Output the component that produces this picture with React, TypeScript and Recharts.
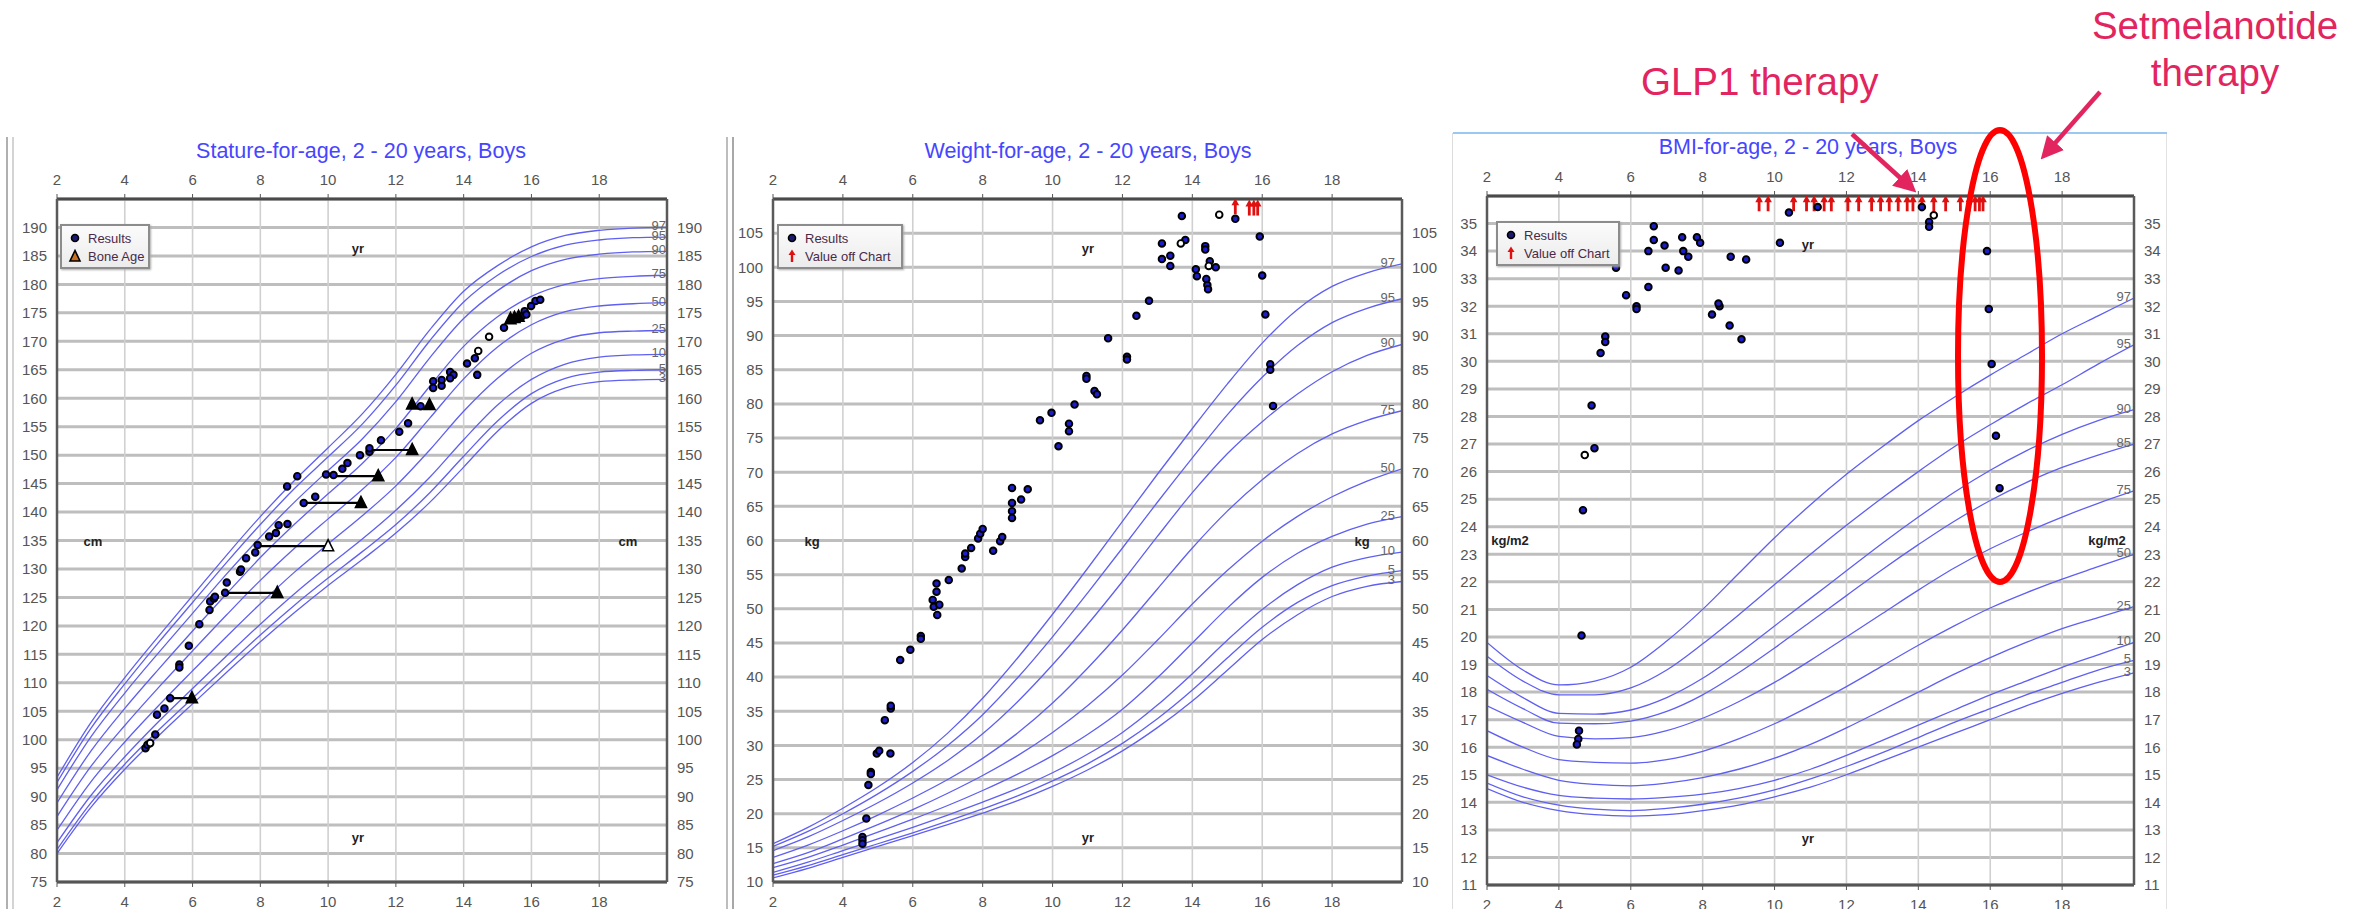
import React from 'react';
import { ComposedChart, Line, Scatter, XAxis, YAxis, CartesianGrid } from 'recharts';

// ages at which the reference percentile curves are read
const AGES = [2, 3, 4, 5, 6, 7, 8, 9, 10, 11, 12, 13, 14, 15, 16, 17, 18, 19, 20];
const AGE_TICKS = [2, 4, 6, 8, 10, 12, 14, 16, 18];
const MINOR_AGE_TICKS = [2.5, 3, 3.5, 4.5, 5, 5.5, 6.5, 7, 7.5, 8.5, 9, 9.5, 10.5, 11, 11.5, 12.5, 13, 13.5, 14.5, 15, 15.5, 16.5, 17, 17.5, 18.5, 19, 19.5];

const STATURE_TICKS = [75, 80, 85, 90, 95, 100, 105, 110, 115, 120, 125, 130, 135, 140, 145, 150, 155, 160, 165, 170, 175, 180, 185, 190];
const WEIGHT_TICKS = [10, 15, 20, 25, 30, 35, 40, 45, 50, 55, 60, 65, 70, 75, 80, 85, 90, 95, 100, 105];
const BMI_TICKS = [11, 12, 13, 14, 15, 16, 17, 18, 19, 20, 21, 22, 23, 24, 25, 26, 27, 28, 29, 30, 31, 32, 33, 34, 35];

// stature-for-age percentiles (cm)
const STATURE_P3 = [80.0, 88.1, 94.8, 100.7, 106.3, 111.8, 117.2, 122.3, 127.1, 131.6, 136.3, 141.7, 147.9, 154.2, 159.1, 161.8, 162.9, 163.2, 163.3];
const STATURE_P5 = [80.7, 88.9, 95.7, 101.7, 107.3, 112.9, 118.4, 123.6, 128.4, 133.0, 137.8, 143.4, 149.8, 156.0, 160.8, 163.5, 164.6, 164.9, 165.0];
const STATURE_P10 = [81.9, 90.2, 97.0, 103.2, 109.0, 114.7, 120.3, 125.6, 130.5, 135.2, 140.3, 146.1, 152.7, 158.8, 163.3, 166.0, 167.2, 167.6, 167.7];
const STATURE_P25 = [84.1, 92.6, 99.6, 106.0, 112.1, 118.1, 123.9, 129.4, 134.4, 139.3, 144.6, 150.9, 157.7, 163.5, 167.9, 170.4, 171.5, 171.8, 171.9];
const STATURE_P50 = [86.5, 95.3, 102.5, 109.2, 115.6, 121.9, 128.0, 133.6, 138.8, 143.9, 149.6, 156.5, 163.4, 169.0, 172.9, 175.2, 176.2, 176.6, 176.8];
const STATURE_P75 = [88.9, 98.0, 105.5, 112.4, 119.1, 125.6, 132.0, 137.8, 143.2, 148.5, 154.7, 162.1, 169.1, 174.3, 177.9, 180.0, 181.0, 181.4, 181.6];
const STATURE_P90 = [91.2, 100.5, 108.2, 115.3, 122.2, 129.1, 135.6, 141.7, 147.3, 152.8, 159.4, 167.1, 174.0, 178.9, 182.4, 184.4, 185.3, 185.7, 185.8];
const STATURE_P95 = [92.5, 102.0, 109.8, 117.1, 124.1, 131.1, 137.8, 144.1, 149.7, 155.4, 162.3, 170.1, 176.9, 181.6, 184.9, 186.9, 187.8, 188.2, 188.3];
const STATURE_P97 = [93.4, 103.0, 110.9, 118.2, 125.3, 132.4, 139.2, 145.5, 151.3, 157.2, 164.2, 172.0, 178.8, 183.3, 186.6, 188.6, 189.5, 189.9, 190.0];

// weight-for-age percentiles (kg)
const WEIGHT_P3 = [10.6, 12.0, 13.6, 15.2, 16.8, 18.4, 20.1, 21.9, 24.0, 26.4, 29.2, 32.6, 36.5, 41.0, 45.5, 49.1, 51.8, 53.3, 54.0];
const WEIGHT_P5 = [11.0, 12.4, 14.0, 15.6, 17.2, 18.9, 20.7, 22.6, 24.8, 27.3, 30.3, 33.9, 38.1, 42.8, 47.3, 50.9, 53.4, 54.8, 55.6];
const WEIGHT_P10 = [11.4, 12.9, 14.6, 16.3, 18.0, 19.8, 21.7, 23.7, 26.0, 28.7, 31.9, 35.9, 40.5, 45.4, 49.9, 53.5, 56.1, 57.5, 58.3];
const WEIGHT_P25 = [12.1, 13.6, 15.4, 17.3, 19.2, 21.2, 23.4, 25.8, 28.5, 31.6, 35.3, 39.9, 45.0, 50.1, 54.6, 58.1, 60.6, 62.4, 63.5];
const WEIGHT_P50 = [12.7, 14.3, 16.3, 18.4, 20.6, 23.0, 25.6, 28.5, 31.9, 35.8, 40.3, 45.4, 50.7, 55.6, 59.9, 63.5, 66.4, 68.7, 70.5];
const WEIGHT_P75 = [13.6, 15.4, 17.5, 19.8, 22.3, 25.0, 28.1, 31.8, 36.2, 41.3, 46.9, 52.9, 58.9, 64.3, 68.9, 72.7, 75.6, 77.6, 79.0];
const WEIGHT_P90 = [14.6, 16.6, 19.0, 21.6, 24.5, 27.8, 31.7, 36.4, 41.8, 47.7, 54.0, 60.6, 67.0, 72.7, 77.4, 81.4, 84.7, 87.1, 88.7];
const WEIGHT_P95 = [15.2, 17.4, 20.0, 22.9, 26.2, 30.0, 34.5, 39.9, 45.9, 52.3, 58.9, 65.6, 72.1, 78.4, 83.9, 88.5, 91.9, 94.0, 95.4];
const WEIGHT_P97 = [15.6, 18.0, 20.8, 23.9, 27.5, 31.8, 36.9, 42.8, 49.2, 55.9, 62.8, 69.7, 76.4, 82.9, 88.9, 93.8, 97.2, 99.2, 100.5];

// BMI-for-age percentiles (kg/m2)
const BMI_P3 = [14.5, 14.0, 13.7, 13.55, 13.5, 13.55, 13.7, 13.9, 14.2, 14.55, 15.0, 15.5, 16.0, 16.5, 17.0, 17.5, 17.95, 18.35, 18.7];
const BMI_P5 = [14.7, 14.2, 13.9, 13.75, 13.7, 13.78, 13.93, 14.15, 14.45, 14.85, 15.3, 15.8, 16.35, 16.9, 17.4, 17.9, 18.35, 18.8, 19.15];
const BMI_P10 = [15.0, 14.55, 14.25, 14.15, 14.12, 14.18, 14.3, 14.5, 14.8, 15.2, 15.7, 16.25, 16.8, 17.35, 17.9, 18.4, 18.9, 19.35, 19.8];
const BMI_P25 = [15.7, 15.2, 14.8, 14.65, 14.6, 14.7, 14.9, 15.2, 15.6, 16.1, 16.7, 17.35, 18.0, 18.65, 19.25, 19.8, 20.3, 20.7, 21.1];
const BMI_P50 = [16.6, 16.0, 15.55, 15.45, 15.42, 15.55, 15.85, 16.3, 16.85, 17.5, 18.2, 18.95, 19.7, 20.4, 21.05, 21.6, 22.1, 22.55, 23.0];
const BMI_P75 = [17.5, 16.9, 16.39, 16.3, 16.35, 16.6, 17.05, 17.65, 18.35, 19.15, 20.0, 20.85, 21.7, 22.5, 23.2, 23.8, 24.35, 24.85, 25.3];
const BMI_P85 = [18.1, 17.4, 16.87, 16.85, 16.95, 17.3, 17.9, 18.7, 19.6, 20.55, 21.5, 22.45, 23.35, 24.2, 24.95, 25.6, 26.15, 26.6, 27.0];
const BMI_P90 = [18.6, 17.8, 17.23, 17.2, 17.35, 17.8, 18.5, 19.4, 20.4, 21.4, 22.4, 23.4, 24.35, 25.25, 26.05, 26.75, 27.35, 27.85, 28.25];
const BMI_P95 = [19.3, 18.4, 17.9, 17.9, 18.15, 18.8, 19.75, 20.8, 21.9, 23.0, 24.05, 25.05, 26.0, 26.9, 27.7, 28.45, 29.15, 29.9, 30.6];
const BMI_P97 = [19.8, 18.8, 18.26, 18.4, 18.9, 19.85, 21.0, 22.3, 23.6, 24.8, 25.9, 26.9, 27.85, 28.7, 29.5, 30.25, 31.0, 31.65, 32.3];

// patient measurements [age, value]
const STATURE_RESULTS = [
  [4.61, 98.5], [4.67, 99.1], [4.9, 100.9], [4.95, 104.4], [5.17, 105.5], [5.34, 107.3], [5.61, 113.2], [5.61, 112.7],
  [5.89, 116.5], [6.2, 120.3], [6.5, 122.8], [6.52, 124.3], [6.63, 124.8], [6.66, 125.1], [6.96, 125.8], [7.01, 127.6],
  [7.4, 129.5], [7.43, 129.9], [7.58, 131.9], [7.85, 132.9], [7.92, 134.2], [8.26, 135.7], [8.46, 136.3], [8.54, 137.7],
  [8.8, 137.9], [8.79, 144.5], [9.09, 146.3], [9.28, 141.6], [9.62, 142.7], [9.94, 146.6], [10.16, 146.5], [10.42, 147.6],
  [10.57, 148.6], [10.94, 150.0], [11.22, 150.6], [11.22, 151.2], [11.56, 152.6], [12.1, 154.1], [12.36, 155.6], [12.73, 158.6],
  [13.1, 163.0], [13.1, 161.8], [13.35, 162.2], [13.35, 163.2], [13.6, 164.6], [13.7, 164.1], [13.6, 163.5], [14.1, 166.1],
  [14.33, 167.0], [14.4, 164.1], [15.19, 172.4], [15.72, 174.4], [15.8, 175.3], [15.85, 174.7], [15.99, 176.2], [16.12, 177.1], [16.26, 177.3],
];
const STATURE_OPEN = [[4.75, 99.4], [14.43, 168.3], [14.75, 170.8]];
// [chronological age, bone age, stature]
const BONE_AGE_LINKS = [[5.34, 5.98, 107.3], [6.96, 8.5, 125.8], [7.95, 10.0, 134.0], [9.28, 10.97, 141.6], [10.1, 11.48, 146.3], [11.31, 12.48, 150.9]];
const BONE_AGE_OPEN = [[10.0, 134.0]];
const BONE_AGE_ALONE = [[12.48, 158.9], [12.99, 158.8], [15.38, 173.9], [15.5, 174.1], [15.62, 174.3]];

const WEIGHT_RESULTS = [
  [4.56, 16.6], [4.56, 16.1], [4.56, 15.6], [4.67, 19.3], [4.73, 24.2], [4.8, 26.1], [4.8, 25.8], [4.97, 28.8], [5.04, 29.2],
  [5.36, 28.8], [5.2, 33.7], [5.37, 35.4], [5.37, 35.8], [5.64, 42.5], [5.93, 44.0], [6.23, 46.0], [6.23, 45.6], [6.57, 51.3],
  [6.6, 50.3], [6.68, 53.7], [6.68, 52.5], [6.7, 49.1], [6.76, 50.6], [7.03, 54.2], [7.4, 55.9], [7.5, 57.6], [7.5, 58.1],
  [7.67, 58.9], [7.87, 60.3], [7.93, 61.0], [8.0, 61.7], [8.3, 58.5], [8.5, 59.9], [8.56, 60.5], [8.84, 65.5], [8.84, 64.3],
  [8.84, 63.3], [8.84, 67.7], [9.1, 66.0], [9.29, 67.5], [9.64, 77.6], [9.97, 78.7], [10.17, 73.8], [10.47, 77.1], [10.47, 76.0],
  [10.63, 79.9], [10.97, 84.1], [10.97, 83.7], [11.2, 81.9], [11.27, 81.4], [11.59, 89.6], [12.13, 86.9], [12.13, 86.5],
  [12.4, 92.9], [12.76, 95.1], [13.13, 101.2], [13.13, 103.5], [13.37, 101.7], [13.37, 100.2], [13.7, 107.5], [13.8, 104.0],
  [14.1, 99.7], [14.13, 98.7], [14.37, 103.1], [14.37, 102.6], [14.4, 98.3], [14.43, 97.4], [14.45, 96.8], [14.5, 100.9],
  [14.67, 100.0], [15.23, 107.1], [15.93, 104.5], [16.0, 98.8], [16.09, 93.1], [16.23, 85.8], [16.23, 85.0], [16.31, 79.7],
];
const WEIGHT_OPEN = [[13.67, 103.5], [14.47, 100.2], [14.77, 107.7]];
const WEIGHT_OFF_CHART = [[15.23, 108.8], [15.63, 108.6], [15.76, 108.6], [15.87, 108.6]];

const BMI_RESULTS = [
  [10.4, 35.4], [11.2, 35.6], [10.15, 34.3], [14.1, 35.6], [14.3, 35.06], [14.3, 34.88], [6.64, 34.9], [6.64, 34.4],
  [6.49, 34.0], [6.94, 34.2], [7.43, 34.5], [7.46, 34.0], [7.6, 33.8], [7.84, 34.5], [7.93, 34.3], [6.97, 33.4],
  [7.33, 33.3], [5.59, 33.4], [5.87, 32.4], [6.16, 32.0], [6.16, 31.9], [6.49, 32.7], [8.78, 33.8], [9.21, 33.7],
  [8.47, 32.0], [8.44, 32.1], [8.26, 31.7], [8.75, 31.3], [9.08, 30.8], [5.29, 30.9], [5.29, 30.7], [5.16, 30.3],
  [4.91, 28.4], [4.99, 26.85], [4.67, 24.6], [4.63, 20.05], [4.56, 16.6], [4.54, 16.3], [4.5, 16.1],
  [15.91, 34.0], [15.96, 31.9], [16.04, 29.9], [16.16, 27.3], [16.26, 25.4],
];
const BMI_OPEN = [[4.72, 26.6], [14.43, 35.3]];
const BMI_OFF_CHART = [
  [9.57, 35.7], [9.82, 35.7], [10.53, 35.7], [10.89, 35.7], [11.1, 35.7], [11.38, 35.7], [11.58, 35.7], [12.04, 35.7],
  [12.34, 35.7], [12.7, 35.7], [12.95, 35.7], [13.19, 35.7], [13.44, 35.7], [13.69, 35.7], [13.85, 35.7], [14.1, 35.7],
  [14.43, 35.7], [14.76, 35.7], [15.17, 35.7], [15.42, 35.7], [15.58, 35.7], [15.7, 35.7], [15.8, 35.7],
];

type Curve = { label: string; values: number[] };

const STATURE_CURVES: Curve[] = [
  { label: '3', values: STATURE_P3 }, { label: '5', values: STATURE_P5 }, { label: '10', values: STATURE_P10 },
  { label: '25', values: STATURE_P25 }, { label: '50', values: STATURE_P50 }, { label: '75', values: STATURE_P75 },
  { label: '90', values: STATURE_P90 }, { label: '95', values: STATURE_P95 }, { label: '97', values: STATURE_P97 },
];
const WEIGHT_CURVES: Curve[] = [
  { label: '3', values: WEIGHT_P3 }, { label: '5', values: WEIGHT_P5 }, { label: '10', values: WEIGHT_P10 },
  { label: '25', values: WEIGHT_P25 }, { label: '50', values: WEIGHT_P50 }, { label: '75', values: WEIGHT_P75 },
  { label: '90', values: WEIGHT_P90 }, { label: '95', values: WEIGHT_P95 }, { label: '97', values: WEIGHT_P97 },
];
const BMI_CURVES: Curve[] = [
  { label: '3', values: BMI_P3 }, { label: '5', values: BMI_P5 }, { label: '10', values: BMI_P10 },
  { label: '25', values: BMI_P25 }, { label: '50', values: BMI_P50 }, { label: '75', values: BMI_P75 },
  { label: '85', values: BMI_P85 }, { label: '90', values: BMI_P90 }, { label: '95', values: BMI_P95 },
  { label: '97', values: BMI_P97 },
];

const FONT = '"Liberation Sans", Arial, sans-serif';
const CURVE_BLUE = '#5f5ff2';
const PINK = '#e2245f';

const pts = (arr: number[][]) => arr.map(([age, v]) => ({ age, v }));

const dotShape = (fill: string) => (p: any) => (
  <circle cx={p.cx} cy={p.cy} r={3.3} fill={fill} stroke="#000" strokeWidth={1.9} />
);
const triangleShape = (fill: string) => (p: any) => (
  <polygon
    points={`${p.cx},${p.cy - 6.5} ${p.cx - 5.5},${p.cy + 4.5} ${p.cx + 5.5},${p.cy + 4.5}`}
    fill={fill}
    stroke="#000"
    strokeWidth={1.6}
  />
);
const arrowShape = (p: any) => (
  <g>
    <rect x={p.cx - 1.4} y={p.cy - 3} width={2.8} height={10} fill="#e01010" />
    <polygon points={`${p.cx - 3.8},${p.cy - 2} ${p.cx},${p.cy - 9} ${p.cx + 3.8},${p.cy - 2}`} fill="#e01010" />
  </g>
);

interface GrowthChartProps {
  left: number;
  width: number;
  leftW: number;
  rightW: number;
  topH: number;
  bottomH: number;
  domain: [number, number];
  yTicks: number[];
  curves: Curve[];
  labelDx: number;
  extra: React.ReactNode[];
}

function GrowthChart({ left, width, leftW, rightW, topH, bottomH, domain, yTicks, curves, labelDx, extra }: GrowthChartProps) {
  const tickStyle = { fill: '#555', fontSize: 15, fontFamily: FONT };
  const pctLabels = curves.map((c) => ({ age: 20, v: c.values[c.values.length - 1], t: c.label }));
  return (
    <div style={{ position: 'absolute', left, top: 130 }}>
      <ComposedChart width={width} height={779} margin={{ top: 0, right: 0, bottom: 0, left: 0 }}>
        <CartesianGrid vertical={false} stroke="#bebebe" strokeWidth={3} />
        <CartesianGrid horizontal={false} stroke="#d0d0d0" strokeWidth={1.6} />
        <XAxis xAxisId="tm" orientation="top" type="number" domain={[2, 20]} ticks={MINOR_AGE_TICKS} interval={0}
          height={0} tick={false} tickSize={3} axisLine={false} tickLine={{ stroke: '#777' }} allowDataOverflow />
        <XAxis xAxisId="top" orientation="top" type="number" dataKey="age" domain={[2, 20]} ticks={AGE_TICKS} interval={0}
          height={topH} tickSize={5} tickMargin={9} tick={tickStyle} axisLine={{ stroke: '#4a4a4a', strokeWidth: 3 }}
          tickLine={{ stroke: '#555' }} allowDataOverflow />
        <XAxis xAxisId="bm" orientation="bottom" type="number" domain={[2, 20]} ticks={MINOR_AGE_TICKS} interval={0}
          height={0} tick={false} tickSize={3} axisLine={false} tickLine={{ stroke: '#777' }} allowDataOverflow />
        <XAxis orientation="bottom" type="number" dataKey="age" domain={[2, 20]} ticks={AGE_TICKS} interval={0}
          height={bottomH} tickSize={5} tickMargin={9} tick={tickStyle} axisLine={{ stroke: '#555', strokeWidth: 3 }}
          tickLine={{ stroke: '#555' }} allowDataOverflow />
        <YAxis type="number" dataKey="v" domain={domain} ticks={yTicks} interval={0} width={leftW} tickSize={0}
          tickMargin={10} tick={tickStyle} axisLine={{ stroke: '#5a5a5a', strokeWidth: 2.5 }} allowDataOverflow />
        <YAxis yAxisId="r" orientation="right" type="number" dataKey="v" domain={domain} ticks={yTicks} interval={0}
          width={rightW} tickSize={0} tickMargin={10} tick={{ ...tickStyle, textAnchor: 'start' }}
          axisLine={{ stroke: '#5a5a5a', strokeWidth: 2.5 }} allowDataOverflow />
        {curves.map((c) => (
          <Line key={'p' + c.label} data={AGES.map((age, i) => ({ age, v: c.values[i] }))} dataKey="v" type="monotone"
            stroke={CURVE_BLUE} strokeWidth={1.3} dot={false} activeDot={false} isAnimationActive={false} />
        ))}
        <Scatter data={pctLabels} isAnimationActive={false}
          shape={(p: any) => (
            <text x={p.cx + labelDx} y={p.cy + 3} textAnchor="end" fontSize={13} fill="#666" fontFamily={FONT}>
              {p.payload.t}
            </text>
          )} />
        {extra}
      </ComposedChart>
    </div>
  );
}

function LegendBox({ left, top, width, items }: { left: number; top: number; width: number; items: { icon: React.ReactNode; text: string }[] }) {
  return (
    <div style={{
      position: 'absolute', left, top, width, height: 45, boxSizing: 'border-box', border: '2px solid #8c8c8c',
      background: 'linear-gradient(#fbfbfb, #ececec)', boxShadow: '1px 1px 2px #aaa', padding: '3px 0 0 6px',
    }}>
      {items.map((it) => (
        <div key={it.text} style={{ display: 'flex', alignItems: 'center', height: 18, fontFamily: FONT, fontSize: 13, color: '#4a2a48' }}>
          <svg width={16} height={14} style={{ marginRight: 4 }}>{it.icon}</svg>
          {it.text}
        </div>
      ))}
    </div>
  );
}

const legendDot = <circle cx={7} cy={7} r={3.5} fill="#1a1a70" stroke="#000" strokeWidth={1.6} />;
const legendTriangle = <polygon points="7,1.5 2,12 12,12" fill="#c87020" stroke="#000" strokeWidth={1.6} />;
const legendArrow = (
  <g>
    <rect x={5.8} y={5} width={2.4} height={8} fill="#e01010" />
    <polygon points="3.5,6 7,0.5 10.5,6" fill="#e01010" />
  </g>
);

function Txt({ x, y, children, style }: { x: number; y: number; children: React.ReactNode; style?: React.CSSProperties }) {
  return (
    <div style={{ position: 'absolute', left: x, top: y, transform: 'translate(-50%, -50%)', whiteSpace: 'nowrap', ...style }}>
      {children}
    </div>
  );
}

const unitStyle: React.CSSProperties = { fontFamily: FONT, fontSize: 13, fontWeight: 'bold', color: '#222' };
const titleStyle: React.CSSProperties = { fontFamily: FONT, fontSize: 21.5, color: '#4646ff' };

function boneLinks() {
  return BONE_AGE_LINKS.map(([a, b, h], i) => (
    <Line key={'bl' + i} data={[{ age: a, v: h }, { age: b, v: h }]} dataKey="v" type="linear" stroke="#000"
      strokeWidth={2.2} dot={false} activeDot={false} isAnimationActive={false} />
  ));
}

export default function App() {
  const statureExtra = [
    ...boneLinks(),
    <Scatter key="r" data={pts(STATURE_RESULTS)} shape={dotShape('#1c1cc8')} isAnimationActive={false} />,
    <Scatter key="o" data={pts(STATURE_OPEN)} shape={dotShape('#ffffff')} isAnimationActive={false} />,
    <Scatter key="t" data={pts(BONE_AGE_LINKS.map(([, b, h]) => [b, h]).filter((p) => p[0] !== BONE_AGE_OPEN[0][0]))}
      shape={triangleShape('#000')} isAnimationActive={false} />,
    <Scatter key="ta" data={pts(BONE_AGE_ALONE)} shape={triangleShape('#000')} isAnimationActive={false} />,
    <Scatter key="to" data={pts(BONE_AGE_OPEN)} shape={triangleShape('#fff')} isAnimationActive={false} />,
  ];
  const weightExtra = [
    <Scatter key="r" data={pts(WEIGHT_RESULTS)} shape={dotShape('#1c1cc8')} isAnimationActive={false} />,
    <Scatter key="o" data={pts(WEIGHT_OPEN)} shape={dotShape('#ffffff')} isAnimationActive={false} />,
    <Scatter key="a" data={pts(WEIGHT_OFF_CHART)} shape={arrowShape} isAnimationActive={false} />,
  ];
  const bmiExtra = [
    <Scatter key="a" data={pts(BMI_OFF_CHART)} shape={arrowShape} isAnimationActive={false} />,
    <Scatter key="r" data={pts(BMI_RESULTS)} shape={dotShape('#1c1cc8')} isAnimationActive={false} />,
    <Scatter key="o" data={pts(BMI_OPEN)} shape={dotShape('#ffffff')} isAnimationActive={false} />,
  ];

  return (
    <div style={{ position: 'absolute', left: 0, top: 0, width: 2367, height: 909, background: '#fff', overflow: 'hidden' }}>
      {/* panel frames */}
      <div style={{ position: 'absolute', left: 6, top: 137, width: 2, height: 772, background: '#b0b0b0' }} />
      <div style={{ position: 'absolute', left: 12, top: 137, width: 2, height: 772, background: '#d4d4d4' }} />
      <div style={{ position: 'absolute', left: 726, top: 137, width: 2, height: 772, background: '#bdbdbd' }} />
      <div style={{ position: 'absolute', left: 732, top: 137, width: 2, height: 772, background: '#a8a8a8' }} />
      <div style={{ position: 'absolute', left: 1452, top: 133, width: 1, height: 776, background: '#dcdcdc' }} />
      <div style={{ position: 'absolute', left: 2166, top: 133, width: 1, height: 776, background: '#e2e2e2' }} />
      <div style={{ position: 'absolute', left: 1453, top: 132, width: 714, height: 2, background: '#9cc8ef' }} />

      <GrowthChart left={0} width={727} leftW={57} rightW={60} topH={69} bottomH={27} domain={[75, 195]}
        yTicks={STATURE_TICKS} curves={STATURE_CURVES} labelDx={-1} extra={statureExtra} />
      <GrowthChart left={733} width={709} leftW={40} rightW={40} topH={69} bottomH={27} domain={[10, 110]}
        yTicks={WEIGHT_TICKS} curves={WEIGHT_CURVES} labelDx={-7} extra={weightExtra} />
      <GrowthChart left={1453} width={714} leftW={34} rightW={33} topH={66} bottomH={24} domain={[11, 36]}
        yTicks={BMI_TICKS} curves={BMI_CURVES} labelDx={-3} extra={bmiExtra} />

      <Txt x={361} y={151} style={titleStyle}>Stature-for-age, 2 - 20 years, Boys</Txt>
      <Txt x={1088} y={151} style={titleStyle}>Weight-for-age, 2 - 20 years, Boys</Txt>
      <Txt x={1808} y={147} style={titleStyle}>BMI-for-age, 2 - 20 years, Boys</Txt>

      <Txt x={358} y={248} style={unitStyle}>yr</Txt>
      <Txt x={358} y={837} style={unitStyle}>yr</Txt>
      <Txt x={93} y={541} style={unitStyle}>cm</Txt>
      <Txt x={628} y={541} style={unitStyle}>cm</Txt>
      <Txt x={1088} y={248} style={unitStyle}>yr</Txt>
      <Txt x={1088} y={837} style={unitStyle}>yr</Txt>
      <Txt x={812} y={541} style={unitStyle}>kg</Txt>
      <Txt x={1362} y={541} style={unitStyle}>kg</Txt>
      <Txt x={1808} y={244} style={unitStyle}>yr</Txt>
      <Txt x={1808} y={838} style={unitStyle}>yr</Txt>
      <Txt x={1510} y={540} style={unitStyle}>kg/m2</Txt>
      <Txt x={2107} y={540} style={unitStyle}>kg/m2</Txt>

      <LegendBox left={60} top={224} width={90} items={[{ icon: legendDot, text: 'Results' }, { icon: legendTriangle, text: 'Bone Age' }]} />
      <LegendBox left={777} top={224} width={126} items={[{ icon: legendDot, text: 'Results' }, { icon: legendArrow, text: 'Value off Chart' }]} />
      <LegendBox left={1496} top={221} width={124} items={[{ icon: legendDot, text: 'Results' }, { icon: legendArrow, text: 'Value off Chart' }]} />

      {/* therapy annotations */}
      <div style={{ position: 'absolute', left: 1641, top: 95, transform: 'translateY(-80%)', fontFamily: FONT, fontSize: 38.5, color: PINK, whiteSpace: 'nowrap' }}>
        GLP1 therapy
      </div>
      <div style={{ position: 'absolute', left: 2215, top: 2, transform: 'translateX(-50%)', fontFamily: FONT, fontSize: 38.5, lineHeight: '47px', color: PINK, textAlign: 'center', whiteSpace: 'nowrap' }}>
        Setmelanotide<br />therapy
      </div>
      <svg width={2367} height={909} style={{ position: 'absolute', left: 0, top: 0, pointerEvents: 'none' }}>
        <defs>
          <marker id="ah" markerWidth="5" markerHeight="5" refX="2.2" refY="2.5" orient="auto">
            <path d="M0,0 L5,2.5 L0,5 Z" fill={PINK} />
          </marker>
        </defs>
        <line x1={1852} y1={134} x2={1907} y2={184} stroke={PINK} strokeWidth={4.5} markerEnd="url(#ah)" />
        <line x1={2100} y1={92} x2={2049} y2={150} stroke={PINK} strokeWidth={4.5} markerEnd="url(#ah)" />
        <ellipse cx={2000} cy={356} rx={42} ry={226} fill="none" stroke="#ff0000" strokeWidth={6} />
      </svg>
    </div>
  );
}
